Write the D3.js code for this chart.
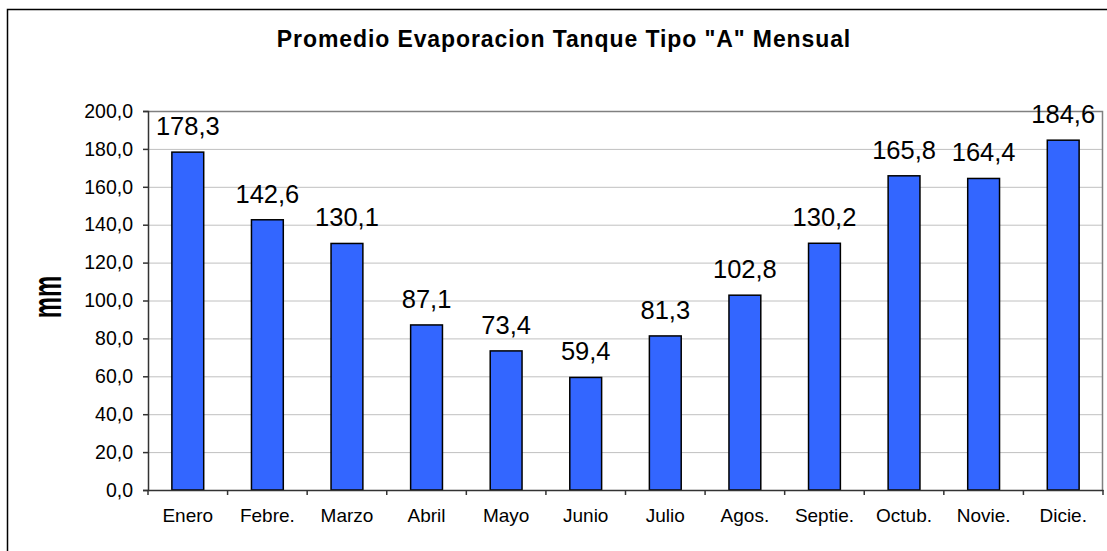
<!DOCTYPE html>
<html>
<head>
<meta charset="utf-8">
<script src="https://cdn.jsdelivr.net/npm/d3@7"></script>
<style>
  body { margin: 0; background: #fff; }
  svg { display: block; font-family: Arial, "Liberation Sans", sans-serif; }
</style>
</head>
<body>
<svg></svg>
<script>
// data
const months = ['Enero', 'Febre.', 'Marzo', 'Abril', 'Mayo', 'Junio', 'Julio', 'Agos.', 'Septie.', 'Octub.', 'Novie.', 'Dicie.'];
const evaporation = [178.3, 142.6, 130.1, 87.1, 73.4, 59.4, 81.3, 102.8, 130.2, 165.8, 164.4, 184.6];
const yTicks = [0, 20, 40, 60, 80, 100, 120, 140, 160, 180, 200];

const width = 1107, height = 551;
const margin = { left: 148, top: 111, right: 4, bottom: 61 };
const plotW = width - margin.left - margin.right;
const plotH = height - margin.top - margin.bottom;

const fmt = d => d.toFixed(1).replace('.', ',');

const svg = d3.select('svg')
    .attr('width', width)
    .attr('height', height);

// outer frame
svg.append('rect')
    .attr('x', 7.5).attr('y', 9.5)
    .attr('width', 1120).attr('height', 560)
    .attr('fill', 'none')
    .attr('stroke', '#000')
    .attr('stroke-width', 1.5);

// title
svg.append('text')
    .attr('x', 564)
    .attr('y', 47)
    .attr('text-anchor', 'middle')
    .style('font-size', '23px')
    .style('letter-spacing', '0.9px')
    .style('font-weight', 'bold')
    .text('Promedio Evaporacion Tanque Tipo "A" Mensual');

// y title
svg.append('text')
    .attr('transform', 'translate(61,297) rotate(-90) scale(1,1.7)')
    .attr('text-anchor', 'middle')
    .style('font-size', '24px')
    .style('font-weight', 'bold')
    .text('mm');

const container = svg.append('g')
    .attr('transform', `translate(${margin.left},${margin.top})`);

// scales
const x = d3.scaleBand()
    .domain(months)
    .range([0, plotW])
    .paddingInner(0.6)
    .paddingOuter(0.3);

const xCell = d3.scaleBand()
    .domain(months)
    .range([0, plotW]);

const y = d3.scaleLinear()
    .domain([0, 200])
    .range([plotH, 0]);

// gridlines
container.append('g')
    .attr('class', 'grid')
    .call(d3.axisLeft(y).tickValues(yTicks.slice(1)).tickSize(-plotW).tickFormat(''))
    .call(g => g.select('.domain').remove())
    .call(g => g.selectAll('line').attr('stroke', '#c0c0c0').attr('stroke-width', 1));

// plot border top/right
container.append('path')
    .attr('d', `M0,0.5H${plotW - 0.5}V${plotH}`)
    .attr('fill', 'none')
    .attr('stroke', '#808080')
    .attr('stroke-width', 1.5);

// bars
container.selectAll('.bar')
    .data(months)
    .join('rect')
    .attr('class', 'bar')
    .attr('x', d => x(d))
    .attr('y', (d, i) => y(evaporation[i]))
    .attr('width', x.bandwidth())
    .attr('height', (d, i) => plotH - y(evaporation[i]))
    .attr('fill', '#3366ff')
    .attr('stroke', '#000')
    .attr('stroke-width', 1.5);

// value labels
container.selectAll('.value')
    .data(months)
    .join('text')
    .attr('class', 'value')
    .attr('x', d => x(d) + x.bandwidth() / 2)
    .attr('y', (d, i) => y(evaporation[i]) - 17)
    .attr('text-anchor', 'middle')
    .style('font-size', '25.5px')
    .text((d, i) => fmt(evaporation[i]));

// y axis
container.append('g')
    .attr('class', 'y-axis')
    .call(d3.axisLeft(y).tickValues(yTicks).tickSize(5).tickPadding(10).tickFormat(fmt))
    .call(g => g.select('.domain').attr('stroke', '#333').attr('stroke-width', 1.5))
    .call(g => g.selectAll('line').attr('stroke', '#333').attr('stroke-width', 1.5))
    .call(g => g.selectAll('text').style('font-size', '19.5px').attr('fill', '#000'));

// x axis
container.append('g')
    .attr('class', 'x-axis')
    .attr('transform', `translate(0,${plotH})`)
    .call(d3.axisBottom(xCell).tickSize(0).tickPadding(19).tickSizeOuter(0))
    .call(g => g.select('.domain').attr('stroke', '#333').attr('stroke-width', 1.5))
    .call(g => g.selectAll('text').style('font-size', '19px').attr('fill', '#000'));

// category boundary ticks
container.append('g')
    .selectAll('line')
    .data(months.concat(['end']))
    .join('line')
    .attr('x1', (d, i) => i < months.length ? xCell(d) : plotW)
    .attr('x2', (d, i) => i < months.length ? xCell(d) : plotW)
    .attr('y1', plotH)
    .attr('y2', plotH + 5)
    .attr('stroke', '#333')
    .attr('stroke-width', 1.5);
</script>
</body>
</html>
